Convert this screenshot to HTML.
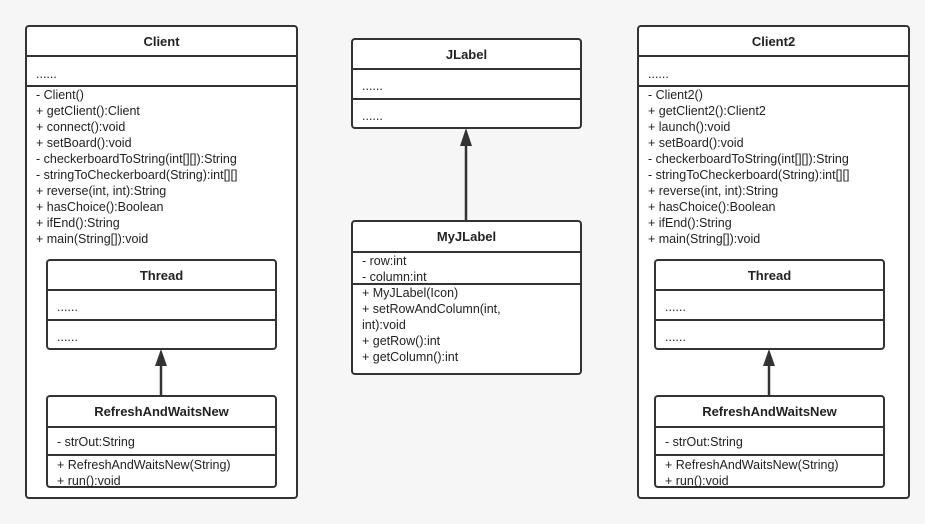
<!DOCTYPE html>
<html><head><meta charset="utf-8"><style>
body{margin:0;width:925px;height:524px;background:#f6f6f6;position:relative;overflow:hidden;font-family:"Liberation Sans","Noto Sans CJK SC",sans-serif;font-size:12.5px;color:#222}
.b{position:absolute;background:#fff;border:2px solid #333;border-radius:4px;box-sizing:border-box}
.h{position:absolute;left:0;right:0;height:2px;background:#333}
.t{position:absolute;left:0;right:0;text-align:center;font-weight:bold;font-size:13px}
.l{position:absolute;left:9px;white-space:nowrap;line-height:16px}
</style></head><body>

<div class="b" style="left:25px;top:25px;width:273px;height:474px">
<div class="t" style="top:7px">Client</div>
<div class="h" style="top:28px"></div>
<div class="l" style="top:39px">......</div>
<div class="h" style="top:58px"></div>
<div class="l" style="top:60px">- Client()<br>+ getClient():Client<br>+ connect():void<br>+ setBoard():void<br>- checkerboardToString(int[][]):String<br>- stringToCheckerboard(String):int[][]<br>+ reverse(int, int):String<br>+ hasChoice():Boolean<br>+ ifEnd():String<br>+ main(String[]):void</div>
</div>
<div class="b" style="left:637px;top:25px;width:273px;height:474px">
<div class="t" style="top:7px">Client2</div>
<div class="h" style="top:28px"></div>
<div class="l" style="top:39px">......</div>
<div class="h" style="top:58px"></div>
<div class="l" style="top:60px">- Client2()<br>+ getClient2():Client2<br>+ launch():void<br>+ setBoard():void<br>- checkerboardToString(int[][]):String<br>- stringToCheckerboard(String):int[][]<br>+ reverse(int, int):String<br>+ hasChoice():Boolean<br>+ ifEnd():String<br>+ main(String[]):void</div>
</div>

<svg width="925" height="524" style="position:absolute;left:0;top:0;z-index:5">
<g stroke="#333" stroke-width="2.5" fill="#333">
<line x1="161" y1="395" x2="161" y2="360"/><polygon points="161,349 155,366 167,366" stroke="none"/>
<line x1="466" y1="220" x2="466" y2="140"/><polygon points="466,128 460,146 472,146" stroke="none"/>
<line x1="769" y1="395" x2="769" y2="360"/><polygon points="769,349 763,366 775,366" stroke="none"/>
</g></svg>

<div class="b" style="left:46px;top:259px;width:231px;height:91px">
<div class="t" style="top:7px">Thread</div><div class="h" style="top:28px"></div>
<div class="l" style="top:38px">......</div><div class="h" style="top:58px"></div>
<div class="l" style="top:68px">......</div></div>
<div class="b" style="left:654px;top:259px;width:231px;height:91px">
<div class="t" style="top:7px">Thread</div><div class="h" style="top:28px"></div>
<div class="l" style="top:38px">......</div><div class="h" style="top:58px"></div>
<div class="l" style="top:68px">......</div></div>
<div class="b" style="left:351px;top:38px;width:231px;height:91px">
<div class="t" style="top:7px">JLabel</div><div class="h" style="top:28px"></div>
<div class="l" style="top:38px">......</div><div class="h" style="top:58px"></div>
<div class="l" style="top:68px">......</div></div>

<div class="b" style="left:46px;top:395px;width:231px;height:93px">
<div class="t" style="top:7px">RefreshAndWaitsNew</div><div class="h" style="top:29px"></div>
<div class="l" style="top:37px">- strOut:String</div><div class="h" style="top:57px"></div>
<div class="l" style="top:60px">+ RefreshAndWaitsNew(String)<br>+ run():void</div></div>
<div class="b" style="left:654px;top:395px;width:231px;height:93px">
<div class="t" style="top:7px">RefreshAndWaitsNew</div><div class="h" style="top:29px"></div>
<div class="l" style="top:37px">- strOut:String</div><div class="h" style="top:57px"></div>
<div class="l" style="top:60px">+ RefreshAndWaitsNew(String)<br>+ run():void</div></div>

<div class="b" style="left:351px;top:220px;width:231px;height:155px">
<div class="t" style="top:7px">MyJLabel</div><div class="h" style="top:29px"></div>
<div class="l" style="top:31px">- row:int<br>- column:int</div><div class="h" style="top:61px"></div>
<div class="l" style="top:63px">+ MyJLabel(Icon)<br>+ setRowAndColumn(int,<br>int):void<br>+ getRow():int<br>+ getColumn():int</div></div>
</body></html>
